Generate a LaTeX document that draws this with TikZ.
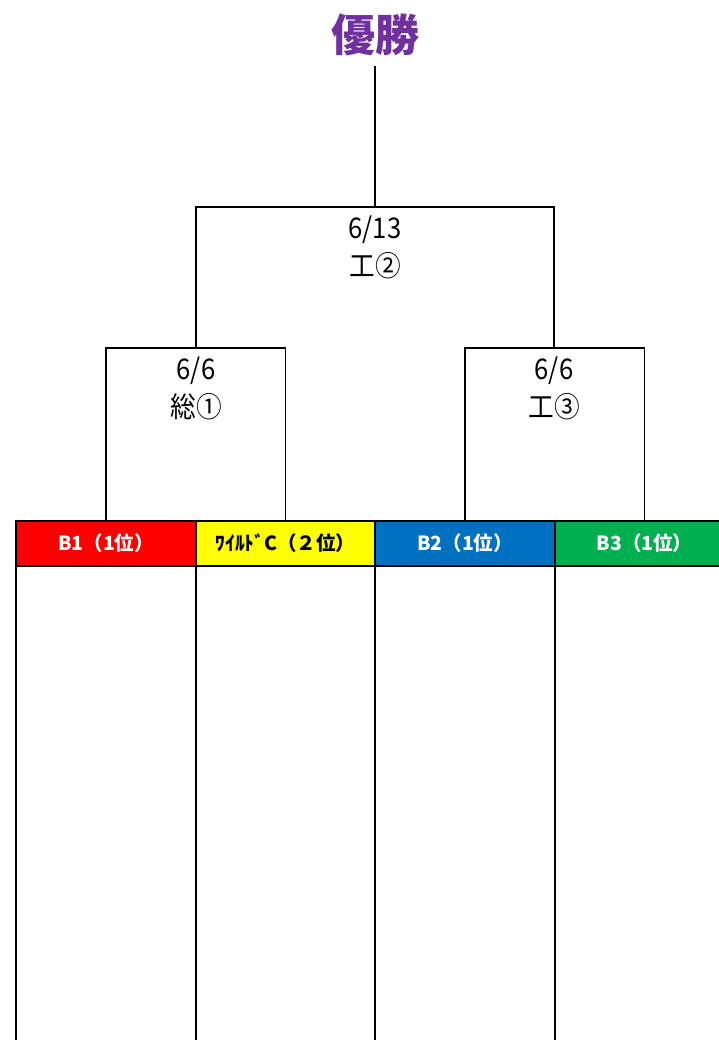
\documentclass[tikz,border=0pt]{standalone}
\usepackage{fontspec}
\newfontfamily\jp{Noto Sans CJK JP}
\newfontfamily\jpn[FakeStretch=0.9]{Noto Sans CJK JP}
\usetikzlibrary{positioning}
\definecolor{winpurple}{HTML}{7030A0}
\definecolor{bred}{HTML}{FF0000}
\definecolor{byellow}{HTML}{FFFF00}
\definecolor{bblue}{HTML}{0070C0}
\definecolor{bgreen}{HTML}{00B050}
\tikzset{
  team/.style={draw=black,line width=2pt,minimum width=179.5pt,minimum height=45pt,inner sep=0pt,outer sep=0pt,
    font=\jp\bfseries\fontsize{19.5}{19.5}\selectfont,text=white},
  bracket/.style={line width=1.6pt},
  match/.style={align=center,inner sep=0pt,font=\jpn\fontsize{28.5}{38}\selectfont}
}
\begin{document}
\begin{tikzpicture}[x=1pt,y=-1pt]
\useasboundingbox (0,0) rectangle (719,1040);
\node[team,fill=bred] (t1) at (106,543.5) {B1（1位）};
\node[team,fill=byellow,text=black,right=0pt of t1] (t2) {ﾜｲﾙﾄﾞC（２位）};
\node[team,fill=bblue,right=0pt of t2] (t3) {B2（1位）};
\node[team,fill=bgreen,right=0pt of t3] (t4) {B3（1位）};
\coordinate (bottom) at (0,1040);
\foreach \t in {t1,t2,t3,t4}
  \draw[bracket] (\t.south west) -- (\t.south west |- bottom);

\coordinate (q1) at (196,348);
\coordinate (q2) at (554,348);
\coordinate (s) at (375,207);
\coordinate (top) at (375,66);
\draw[bracket] (t1.north) |- (q1) -| (t2.north);
\draw[bracket] (t3.north) |- (q2) -| (t4.north);
\draw[bracket] (q1) |- (s) -| (q2);
\draw[bracket] (s) -- (top);

\node[match,below=9pt of q1] (m1) {6/6\\総①};
\node[match,below=9pt of q2] (m2) {6/6\\工③};
\node[match,below=9pt of s] (m3) {6/13\\工②};
\node[font=\jp\bfseries\fontsize{44}{44}\selectfont,text=winpurple] (champ) at (375,35) {優勝};
\end{tikzpicture}
\end{document}
